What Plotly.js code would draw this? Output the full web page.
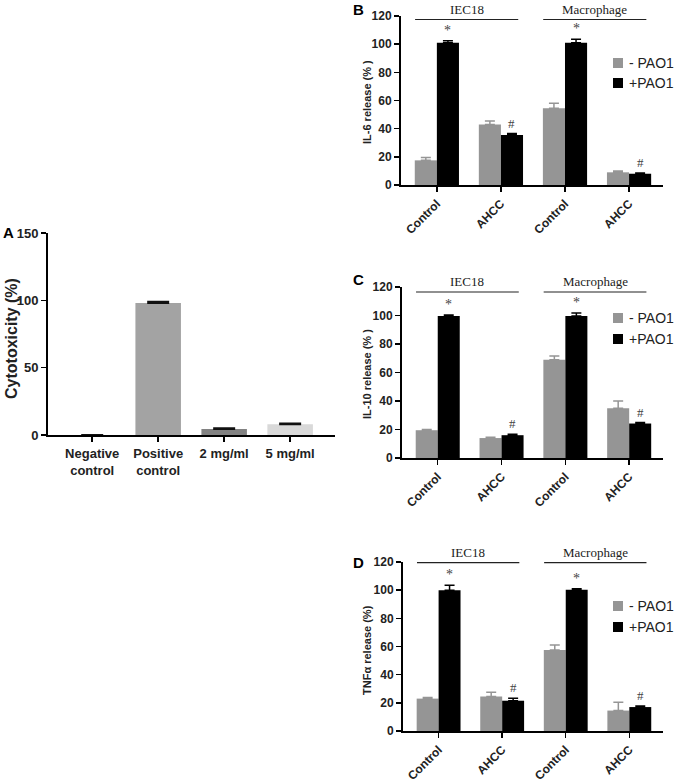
<!DOCTYPE html>
<html>
<head>
<meta charset="utf-8">
<script src="https://cdn.plot.ly/plotly-3.0.1.min.js"></script>
<style>
  html, body { margin: 0; padding: 0; background: #fff; overflow: hidden; }
  #chart { width: 675px; height: 782px; }
</style>
</head>
<body>
<div id="chart"></div>
<script>
// Panel A - cytotoxicity
const catsA = ['Negative<br>control', 'Positive<br>control', '2 mg/ml', '5 mg/ml'];
const cytotox = [0, 98, 4.5, 8];
const cytotoxErr = [0, 1, 0.5, 0.5];

// Panels B-D share groups and tick labels
const groups = ['IEC18', 'Macrophage'];
const xLabels = ['Control', 'AHCC', 'Control', 'AHCC'];
const seriesNames = ['- PAO1', '+PAO1'];
const marks = ['*', '#', '*', '#'];

const il6Minus = [17.5, 43, 54.5, 9];
const il6MinusErr = [2, 2.5, 3.5, 1];
const il6Plus = [101, 35.5, 101, 8];
const il6PlusErr = [1.5, 1, 2.5, 0.5];

const il10Minus = [19.5, 14, 69, 35];
const il10MinusErr = [0.5, 0.5, 2.5, 5];
const il10Plus = [99.7, 16, 99.7, 24.2];
const il10PlusErr = [0.7, 0.6, 2, 0.7];

const tnfMinus = [23, 24.5, 57.5, 14.5];
const tnfMinusErr = [0.8, 3, 3.5, 6];
const tnfPlus = [100, 21.5, 100.3, 17];
const tnfPlusErr = [3.5, 1.8, 0.7, 0.8];

const W = 675, H = 782;
const SANS = 'Liberation Sans, Arial, sans-serif';
const SERIF = 'Liberation Serif, Times New Roman, serif';
const GRAY = '#959595';
const seriesColors = [GRAY, '#000000'];

const px = v => v / W;
const py = v => 1 - v / H;

const traces = [];
const annotations = [];
const shapes = [];

// panel A
traces.push({
    x: catsA.map((c, i) => i),
    y: cytotox,
    type: 'bar',
    xaxis: 'x', yaxis: 'y',
    marker: { color: ['#ffffff', '#a3a3a3', '#828282', '#d9d9d9'], line: { width: 0 } },
    error_y: { type: 'data', array: cytotoxErr, arrayminus: cytotoxErr.map(() => 0), symmetric: false, color: '#111', thickness: 2, width: 11 },
    showlegend: false,
    hoverinfo: 'skip'
});

const panels = [
    { id: 2, minus: il6Minus, minusErr: il6MinusErr, plus: il6Plus, plusErr: il6PlusErr, title: 'IL-6 release (% )', lineY: 117.5, legendY: [63, 83], titleY: 102 },
    { id: 3, minus: il10Minus, minusErr: il10MinusErr, plus: il10Plus, plusErr: il10PlusErr, title: 'IL-10 release (% )', lineY: 116.5, legendY: [318, 339], titleY: 374 },
    { id: 4, minus: tnfMinus, minusErr: tnfMinusErr, plus: tnfPlus, plusErr: tnfPlusErr, title: 'TNF\u03b1 release (%)', lineY: 119.5, legendY: [606, 627], titleY: 650 }
];

panels.forEach(p => {
    const xs = xLabels.map((l, i) => i);
    traces.push({
        x: xs, y: p.minus, name: seriesNames[0], type: 'bar',
        xaxis: 'x' + p.id, yaxis: 'y' + p.id, showlegend: false,
        marker: { color: seriesColors[0] },
        error_y: { type: 'data', array: p.minusErr, arrayminus: p.minusErr.map(() => 0), symmetric: false, color: GRAY, thickness: 1.5, width: 5 },
        hoverinfo: 'skip'
    });
    traces.push({
        x: xs, y: p.plus, name: seriesNames[1], type: 'bar',
        xaxis: 'x' + p.id, yaxis: 'y' + p.id, showlegend: false,
        marker: { color: seriesColors[1] },
        error_y: { type: 'data', array: p.plusErr, arrayminus: p.plusErr.map(() => 0), symmetric: false, color: '#000', thickness: 1.5, width: 5 },
        hoverinfo: 'skip'
    });

    // significance marks above +PAO1 bars
    marks.forEach((m, i) => {
        annotations.push({
            x: i + 0.1725, y: p.plus[i] + p.plusErr[i],
            xref: 'x' + p.id, yref: 'y' + p.id,
            text: m, showarrow: false, yanchor: 'bottom', yshift: 1,
            font: { family: SERIF, size: m === '*' ? 14 : 13, color: '#444' }
        });
    });

    // group headers
    groups.forEach((g, gi) => {
        const x0 = gi * 2 - 0.34, x1 = gi * 2 + 1.27;
        shapes.push({
            type: 'line', xref: 'x' + p.id, yref: 'y' + p.id,
            x0: x0, x1: x1, y0: p.lineY, y1: p.lineY,
            line: { color: '#222', width: 1.2 }
        });
        annotations.push({
            x: (x0 + x1) / 2, y: p.lineY, xref: 'x' + p.id, yref: 'y' + p.id,
            text: g, showarrow: false, yanchor: 'bottom', yshift: 1,
            font: { family: SERIF, size: 13, color: '#222' }
        });
    });

    // y title
    annotations.push({
        text: p.title, x: px(367), y: py(p.titleY), xref: 'paper', yref: 'paper',
        textangle: -90, showarrow: false, xanchor: 'center', yanchor: 'middle',
        font: { family: SANS, size: 11, weight: 700, color: '#222' }
    });

    // legend keys
    seriesNames.forEach((n, si) => {
        const cy = p.legendY[si];
        shapes.push({
            type: 'rect', xref: 'paper', yref: 'paper',
            x0: px(613), x1: px(623), y0: py(cy + 5), y1: py(cy - 5),
            fillcolor: seriesColors[si], line: { width: 0 }
        });
        annotations.push({
            text: n, x: px(627), y: py(cy), xref: 'paper', yref: 'paper',
            showarrow: false, xanchor: 'left', yanchor: 'middle',
            font: { family: SANS, size: 14, color: '#222' }
        });
    });
});

// panel A title
annotations.push({
    text: 'Cytotoxicity (%)', x: px(11), y: py(339), xref: 'paper', yref: 'paper',
    textangle: -90, showarrow: false, xanchor: 'center', yanchor: 'middle',
    font: { family: SANS, size: 16, weight: 700, color: '#222' }
});

// panel letters
[['A', 8, 233], ['B', 359, 9], ['C', 359, 280], ['D', 359, 562]].forEach(([t, x, y]) => {
    annotations.push({
        text: t, x: px(x), y: py(y), xref: 'paper', yref: 'paper',
        showarrow: false, xanchor: 'center', yanchor: 'middle',
        font: { family: SANS, size: 15, weight: 700, color: '#000' }
    });
});

const tickFont = { family: SANS, size: 12, weight: 700, color: '#222' };
const tickFontA = { family: SANS, size: 13, weight: 700, color: '#222' };

function xAxis(dom, anchor, range, text, tickangle, font) {
    return {
        domain: dom, anchor: anchor, range: range,
        tickmode: 'array', tickvals: text.map((t, i) => i), ticktext: text,
        tickangle: tickangle, tickfont: font,
        ticks: 'outside', ticklen: 5, tickwidth: 1.5, tickcolor: '#000',
        showline: true, linewidth: 2, linecolor: '#000',
        showgrid: false, zeroline: false, fixedrange: true
    };
}

function yAxis(dom, anchor, range, dtick, font) {
    return {
        domain: dom, anchor: anchor, range: range, dtick: dtick,
        tickfont: font,
        ticks: 'outside', ticklen: 5, tickwidth: 1.5, tickcolor: '#000',
        showline: true, linewidth: 2, linecolor: '#000',
        showgrid: false, zeroline: false, fixedrange: true
    };
}

const layout = {
    width: W, height: H,
    margin: { l: 0, r: 0, t: 0, b: 0 },
    paper_bgcolor: '#fff', plot_bgcolor: '#fff',
    barmode: 'group', bargap: 0.31, bargroupgap: 0,
    showlegend: false,
    xaxis: xAxis([px(48), px(335)], 'y', [-0.67, 3.68], catsA, 0, tickFontA),
    yaxis: yAxis([py(435), py(233)], 'x', [0, 150], 50, tickFontA),
    xaxis2: xAxis([px(401), px(663)], 'y2', [-0.56, 3.53], xLabels, -45, tickFont),
    yaxis2: yAxis([py(185), py(16)], 'x2', [0, 120], 20, tickFont),
    xaxis3: xAxis([px(402), px(663)], 'y3', [-0.56, 3.53], xLabels, -45, tickFont),
    yaxis3: yAxis([py(458), py(287)], 'x3', [0, 120], 20, tickFont),
    xaxis4: xAxis([px(403), px(663)], 'y4', [-0.56, 3.53], xLabels, -45, tickFont),
    yaxis4: yAxis([py(731), py(562)], 'x4', [0, 120], 20, tickFont),
    annotations: annotations,
    shapes: shapes
};

Plotly.newPlot('chart', traces, layout, { displayModeBar: false, staticPlot: true });
</script>
</body>
</html>
